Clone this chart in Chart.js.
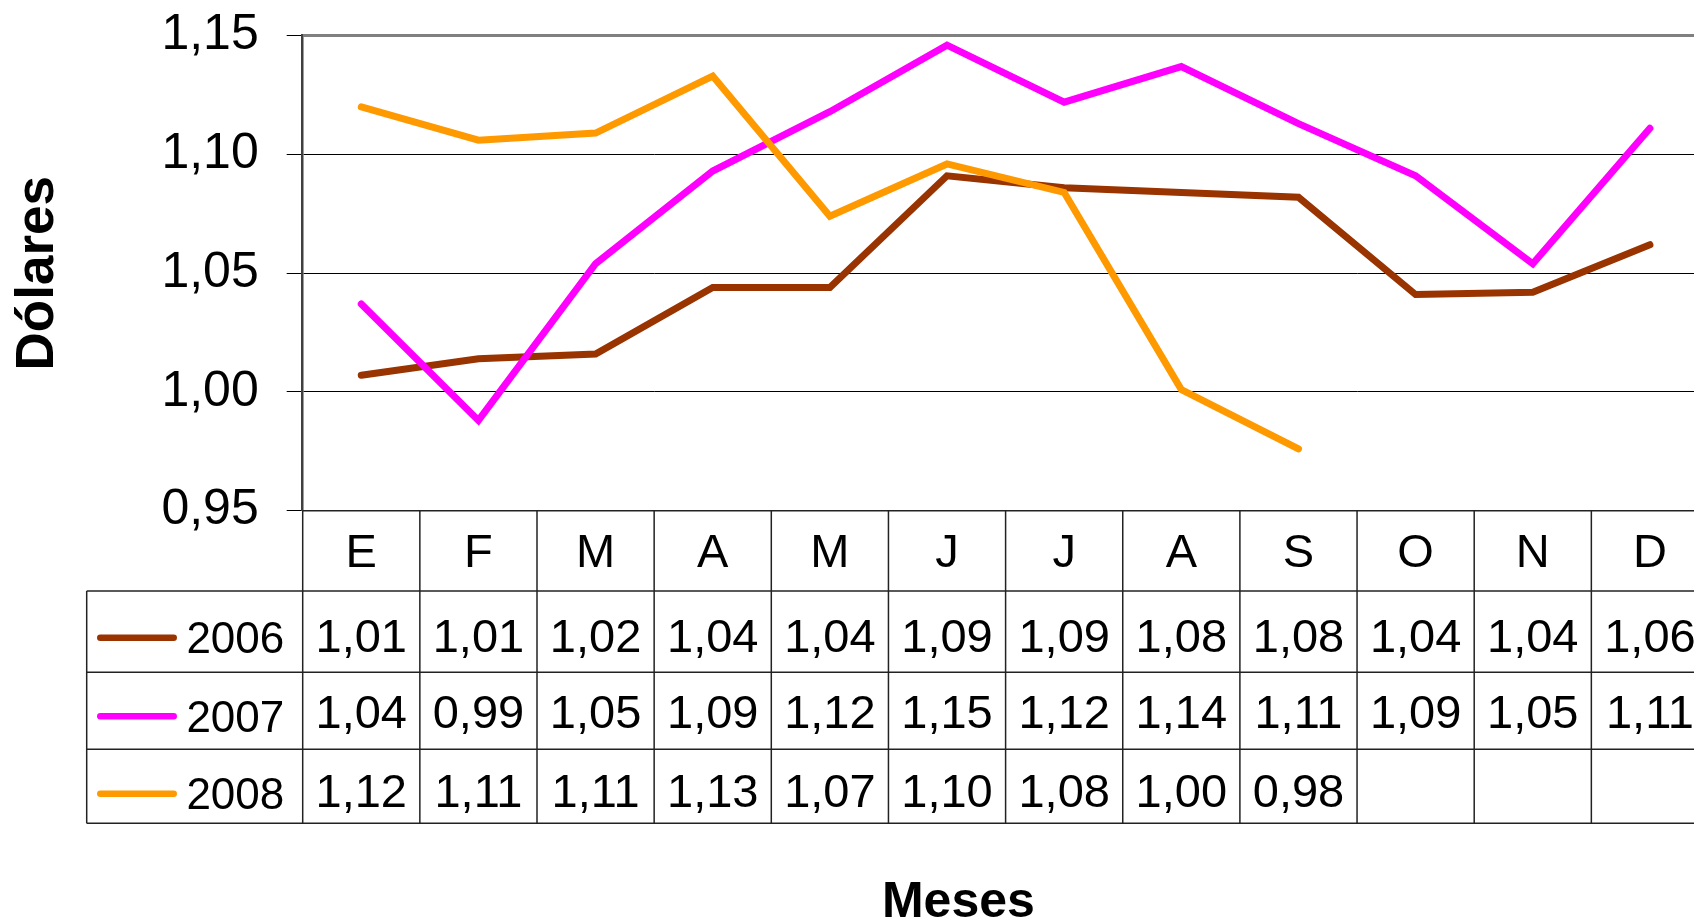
<!DOCTYPE html>
<html>
<head>
<meta charset="utf-8">
<script src="https://cdn.jsdelivr.net/npm/chart.js@4.4.1/dist/chart.umd.min.js"></script>
<style>
  html, body { margin: 0; padding: 0; background: #fff; overflow: hidden; width: 1694px; height: 919px; }
  canvas { display: block; }
</style>
</head>
<body>
<canvas id="c" width="1712" height="919" style="width:1712px;height:919px"></canvas>
<script>
// ---- data ----
const months = ['E', 'F', 'M', 'A', 'M', 'J', 'J', 'A', 'S', 'O', 'N', 'D'];
const seriesNames = ['2006', '2007', '2008'];
const values2006 = [1.007, 1.014, 1.016, 1.044, 1.044, 1.091, 1.086, 1.084, 1.082, 1.041, 1.042, 1.062];
const values2007 = [1.037, 0.988, 1.054, 1.093, 1.118, 1.146, 1.122, 1.137, 1.113, 1.091, 1.054, 1.111];
const values2008 = [1.120, 1.106, 1.109, 1.133, 1.074, 1.096, 1.084, 1.001, 0.976, null, null, null];
const yTicks = [0.95, 1.00, 1.05, 1.10, 1.15];
const yTitle = 'Dólares';
const xTitle = 'Meses';

const seriesColors = ['#993300', '#FF00FF', '#FF9900'];
const FONT = '"Liberation Sans", Arial, sans-serif';
const fmt = v => v.toFixed(2).replace('.', ',');

const tablePlugin = {
  id: 'dataTable',
  afterDraw(chart) {
    const { ctx, chartArea, scales } = chart;
    const x = scales.x;
    const rowsY = [chartArea.bottom, 591, 672.3, 749.3, 823.3];
    const legendLeft = 86.7;
    const right = chart.width;
    ctx.save();
    ctx.strokeStyle = '#222';
    ctx.lineWidth = 1.5;
    const line = (x1, y1, x2, y2) => { ctx.beginPath(); ctx.moveTo(x1, y1); ctx.lineTo(x2, y2); ctx.stroke(); };
    line(chartArea.left, rowsY[0], right, rowsY[0]);
    for (let i = 1; i < rowsY.length; i++) line(legendLeft, rowsY[i], right, rowsY[i]);
    line(legendLeft, rowsY[1], legendLeft, rowsY[4]);
    for (let i = 0; i <= months.length; i++) {
      const xe = x.getPixelForValue(i - 0.5);
      line(xe, rowsY[0], xe, rowsY[4]);
    }
    ctx.fillStyle = '#000';
    ctx.textBaseline = 'alphabetic';
    // header row
    ctx.font = '47px ' + FONT;
    ctx.textAlign = 'center';
    months.forEach((m, i) => ctx.fillText(m, x.getPixelForValue(i), 567.3));
    // data rows
    const series = [values2006, values2007, values2008];
    const valueBase = [651.7, 728.3, 806.7];
    const legendBase = [653.3, 731.7, 809.3];
    series.forEach((vals, r) => {
      ctx.font = '47px ' + FONT;
      ctx.textAlign = 'center';
      vals.forEach((v, i) => {
        if (v !== null) ctx.fillText(fmt(v), x.getPixelForValue(i), valueBase[r]);
      });
      // legend key
      ctx.save();
      ctx.strokeStyle = seriesColors[r];
      ctx.lineWidth = 6.5;
      ctx.lineCap = 'round';
      line(100.3, legendBase[r] - 15.5, 173.7, legendBase[r] - 15.5);
      ctx.restore();
      ctx.font = '44px ' + FONT;
      ctx.textAlign = 'left';
      ctx.fillText(seriesNames[r], 186.4, legendBase[r]);
    });
    // x axis title
    ctx.font = 'bold 50px ' + FONT;
    ctx.textAlign = 'center';
    ctx.fillText(xTitle, 958.4, 916.5);
    ctx.restore();
  }
};

const ctx = document.getElementById('c').getContext('2d');
new Chart(ctx, {
  type: 'line',
  data: {
    labels: months,
    datasets: [
      { label: seriesNames[0], data: values2006, borderColor: seriesColors[0], order: 3 },
      { label: seriesNames[1], data: values2007, borderColor: seriesColors[1], order: 2 },
      { label: seriesNames[2], data: values2008, borderColor: seriesColors[2], order: 1 }
    ].map(d => Object.assign(d, {
      borderWidth: 7, pointRadius: 0, pointHoverRadius: 0, tension: 0, fill: false,
      borderCapStyle: 'round', borderJoinStyle: 'miter', spanGaps: false
    }))
  },
  options: {
    responsive: false,
    animation: false,
    devicePixelRatio: 1,
    layout: { padding: { left: 0, top: 35.7, right: 3.5, bottom: 408.3 } },
    plugins: { legend: { display: false }, tooltip: { enabled: false }, title: { display: false } },
    scales: {
      x: { type: 'category', offset: true, display: false },
      y: {
        min: 0.95, max: 1.15,
        afterBuildTicks: s => { s.ticks = yTicks.map(v => ({ value: v })); },
        afterFit: s => { s.width = 302.7; s.paddingTop = 0; s.paddingBottom = 0; },
        ticks: {
          font: { family: FONT, size: 50 }, color: '#000', padding: 28,
          callback: v => fmt(v)
        },
        grid: {
          color: c => (c.tick && Math.abs(c.tick.value - 1.15) < 1e-9) ? '#808080' : '#000',
          lineWidth: c => (c.tick && Math.abs(c.tick.value - 1.15) < 1e-9) ? 3 : 1,
          tickLength: 16, tickColor: '#000', tickWidth: 1
        },
        border: { color: '#404040', width: 2.5 },
        title: {
          display: true, text: yTitle, color: '#000',
          font: { family: FONT, size: 53, weight: 'bold' },
          padding: { top: 6.5, bottom: 0 }
        }
      }
    }
  },
  plugins: [tablePlugin]
});
</script>
</body>
</html>
